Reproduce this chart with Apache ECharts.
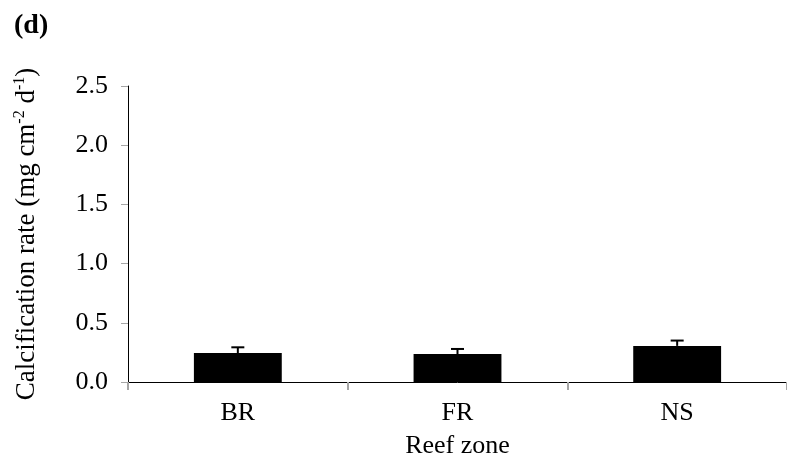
<!DOCTYPE html>
<html>
<head>
<meta charset="utf-8">
<script src="https://cdn.jsdelivr.net/npm/echarts@6/dist/echarts.min.js"></script>
<style>
html,body{margin:0;padding:0;background:#fff;}
#chart{width:787px;height:467px;}
</style>
</head>
<body>
<div id="chart"></div>
<script>
const categories = ['BR', 'FR', 'NS'];
const means = [0.245, 0.236, 0.305];
const errors = [0.048, 0.043, 0.045];
const yTicks = [0, 0.5, 1.0, 1.5, 2.0, 2.5];

const FONT = '"Liberation Serif", "Times New Roman", serif';
const chart = echarts.init(document.getElementById('chart'));

const errData = categories.map((c, i) => [i, means[i], means[i] + errors[i]]);

chart.setOption({
  animation: false,
  backgroundColor: '#fff',
  title: {
    text: '(d)', left: 9, top: 7,
    textStyle: { fontFamily: FONT, fontWeight: 'bold', fontSize: 28, color: '#000' }
  },
  grid: { left: 128, top: 86, width: 667.5, height: 296, containLabel: false },
  xAxis: {
    type: 'category',
    data: categories,
    name: 'Reef zone',
    nameLocation: 'middle',
    nameGap: 51,
    nameTextStyle: { fontFamily: FONT, fontSize: 26, color: '#000' },
    axisLine: { lineStyle: { color: '#000', width: 1 } },
    axisTick: { show: true, length: 8, lineStyle: { color: '#a6a6a6', width: 2 } },
    axisLabel: { margin: 18, fontFamily: FONT, fontSize: 26, color: '#000' },
    splitLine: { show: false }
  },
  yAxis: {
    type: 'value',
    min: 0, max: 2.5, interval: 0.5,
    name: 'Calcification rate (mg cm{sup|-2} d{sup|-1})',
    nameLocation: 'middle',
    nameGap: 86,
    nameTextStyle: {
      fontFamily: FONT, fontSize: 27, color: '#000',
      rich: {
        sup: { fontFamily: FONT, fontSize: 16, color: '#000', verticalAlign: 'top', lineHeight: 30 }
      }
    },
    axisLine: { show: true, lineStyle: { color: '#000', width: 1 } },
    axisTick: { show: true, length: 7, lineStyle: { color: '#a6a6a6', width: 1 } },
    axisLabel: {
      margin: 20, fontFamily: FONT, fontSize: 26, color: '#000',
      formatter: v => yTicks.includes(v) ? v.toFixed(1) : ''
    },
    splitLine: { show: false }
  },
  series: [
    {
      type: 'bar',
      data: means,
      barWidth: '40%',
      itemStyle: { color: '#000' }
    },
    {
      type: 'custom',
      data: errData,
      z: 3,
      renderItem: function (params, api) {
        const i = api.value(0);
        const base = api.coord([i, api.value(1)]);
        const top = api.coord([i, api.value(2)]);
        const hw = 6.5;
        return {
          type: 'group',
          children: [
            { type: 'line', shape: { x1: base[0], y1: base[1], x2: top[0], y2: top[1] },
              style: { stroke: '#000', lineWidth: 2 } },
            { type: 'line', shape: { x1: top[0] - hw, y1: top[1], x2: top[0] + hw, y2: top[1] },
              style: { stroke: '#000', lineWidth: 2 } }
          ]
        };
      }
    }
  ]
});
</script>
</body>
</html>
